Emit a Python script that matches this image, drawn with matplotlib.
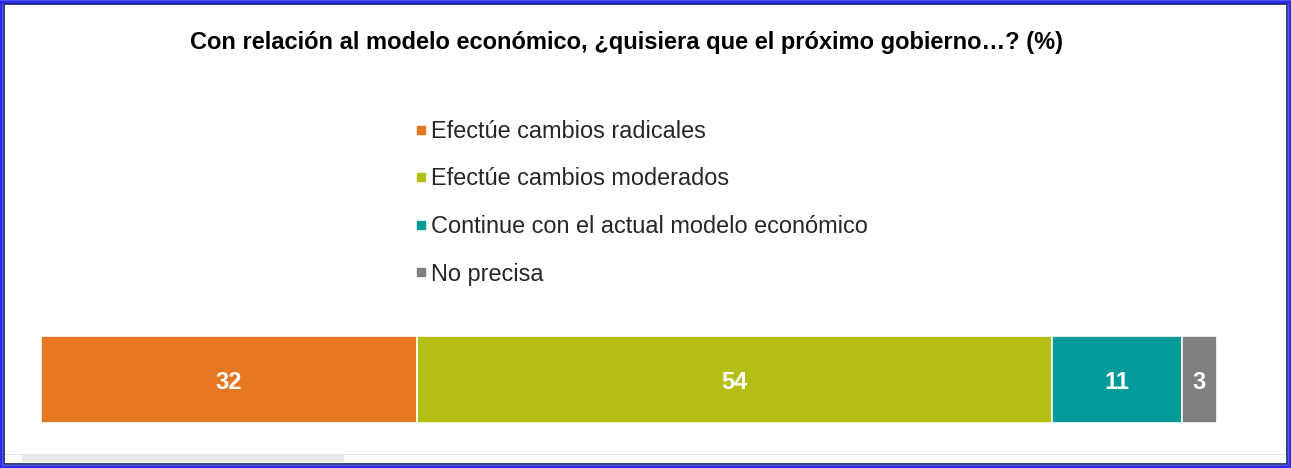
from matplotlib import pyplot as plt
from matplotlib.patches import Rectangle
from matplotlib.lines import Line2D

plt.rcParams['font.family'] = ['Liberation Sans', 'DejaVu Sans']

# data
categories = ["Efectúe cambios radicales",
              "Efectúe cambios moderados",
              "Continue con el actual modelo económico",
              "No precisa"]
values = [32, 54, 11, 3]
colors = ["#e67722", "#b5bf13", "#009b98", "#7f7f7f"]
title = "Con relación al modelo económico, ¿quisiera que el próximo gobierno…? (%)"

W, H = 1291, 468
fig = plt.figure(figsize=(W / 100, H / 100), dpi=100)


def px(x, y):
    # pixel (from top-left) to figure fraction
    return x / W, 1 - y / H


# bar axes
x0, y0 = px(41, 423)
x1, y1 = px(1217, 336)
ax = fig.add_axes([x0, y0, x1 - x0, y1 - y0])
left = 0
for v, c in zip(values, colors):
    ax.barh(0, v, left=left, height=1, color=c, edgecolor="white", linewidth=1.2)
    ax.text(left + v / 2, -0.03, str(v), ha="center", va="center",
            color="white", fontsize=17, fontweight="bold")
    left += v
ax.set_xlim(0, 100)
ax.set_ylim(-0.5, 0.5)
ax.axis("off")

# title
tx, ty = px(627, 42)
fig.text(tx, ty, title, ha="center", va="center", fontsize=17, fontweight="bold")

# legend
handles = [Line2D([], [], marker="s", linestyle="none", markersize=6,
                  markerfacecolor=c, markeredgecolor=c) for c in colors]
lx, ly = px(403, 108)
fig.legend(handles, categories, loc="upper left", bbox_to_anchor=(lx, ly),
           frameon=False, fontsize=16.9, labelspacing=1.05,
           handlelength=0.5, handletextpad=0.2, borderpad=0,
           labelcolor="#262626")

# bottom scrollbar line + thumb
sx, sy = px(5, 455)
fig.add_artist(Rectangle((sx, sy), 1280 / W, 1.2 / H, transform=fig.transFigure,
                         facecolor="#e4e4e8", edgecolor="none"))
tx0, ty0 = px(22, 462)
fig.add_artist(Rectangle((tx0, ty0), 322 / W, 7 / H, transform=fig.transFigure,
                         facecolor="#e8e8e8", edgecolor="none"))

# frame: blue outer, navy inner
fig.add_artist(Rectangle((1.5 / W, 1.5 / H), (W - 3) / W, (H - 3) / H,
                         transform=fig.transFigure, fill=False,
                         edgecolor="#2b2bee", linewidth=2.6))
fig.add_artist(Rectangle((4 / W, 4 / H), (W - 8) / W, (H - 8) / H,
                         transform=fig.transFigure, fill=False,
                         edgecolor="#10206a", linewidth=1.2))

fig.savefig("out.png", dpi=100)
